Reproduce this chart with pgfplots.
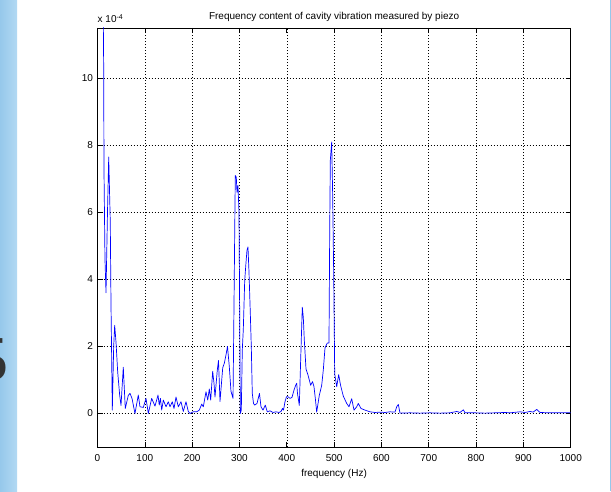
\documentclass[border=0pt]{standalone}
\usepackage{pgfplots}
\pgfplotsset{compat=1.18}
\usepackage{fontspec}
\setmainfont{Liberation Sans}
\newfontfamily\seriffont{Liberation Serif}
\definecolor{stripeA}{RGB}{150,200,235}
\definecolor{stripeB}{RGB}{178,217,243}
\begin{document}
\begin{tikzpicture}
\useasboundingbox (0pt,0pt) rectangle (611pt,491pt);
\fill[white] (0pt,0pt) rectangle (611pt,491pt);
\shade[left color=stripeA,right color=stripeB] (0pt,0pt) rectangle (17pt,491pt);
\fill[stripeA] (610pt,0pt) rectangle (611pt,491pt);
\node[anchor=base east,inner sep=0pt,font=\seriffont\fontsize{64}{64}\selectfont,text=black!80] at (9pt,111pt) {5};
\begin{axis}[
  at={(97.5pt,44pt)}, anchor=south west,
  scale only axis, width=473.2pt, height=419pt,
  clip mode=individual,
  xmin=0, xmax=1000, ymin=-1, ymax=11.5,
  xtick={0,100,...,1000}, ytick={0,2,...,10},
  tick align=inside, major tick length=5pt,
  grid=major,
  major grid style={black, line width=0.5pt, dash pattern=on 0.8pt off 2.2pt},
  axis line style={black, line width=0.6pt},
  tick style={black, line width=0.6pt},
  /pgf/number format/assume math mode=true,
  /pgf/number format/set thousands separator={},
  ticklabel style={font=\fontsize{10}{12}\selectfont},
  xticklabel style={yshift=-4pt},
  yticklabel style={xshift=-1pt},
  title={Frequency content of cavity vibration measured by piezo},
  title style={at={(0.5,1)}, anchor=base, yshift=2.5pt, font=\fontsize{10}{12}\selectfont},
  xlabel={frequency (Hz)},
  xlabel style={at={(axis description cs:0.5,0)}, anchor=base, yshift=-29pt, font=\fontsize{10}{12}\selectfont},
]
\addplot[color={rgb,255:red,0;green,0;blue,255}, line width=0.7pt, line join=round] coordinates {
(11.5,13) (13.1,10.3) (13.7,7.3) (15.8,4.6) (18.0,3.6) (21.1,6.0) (23.7,7.65) (27.0,5.7) (28.5,3.3) (31.3,0.1)
(34.2,2.0) (36.3,2.63) (39.1,2.13) (42.7,1.23) (46.9,0.54) (49.7,0.24) (54.5,1.38) (58.7,0.15) (65.1,0.54) (68.7,0.6)
(72.9,0.45) (79.2,0.0) (86.2,0.55) (89.8,0.2) (96.8,0.18) (102.5,0.45) (107.4,0.0) (114.5,0.45) (121.5,0.22) (127.9,0.55)
(130.5,0.25) (133,0.45) (135.7,0.1) (139.1,0.4) (144.8,0.2) (149.6,0.35) (153.2,0.2) (158.1,0.35) (161.7,0.15) (165.9,0.49)
(170.8,0.2) (176.5,0.35) (181.3,0.06) (187.0,0.35) (191.9,0.06) (195.5,0.0) (202.5,0.05) (209.6,0.05) (215.1,0.1) (220.2,0.28)
(223.6,0.2) (229.3,0.65) (232.9,0.4) (236.3,0.73) (239.2,0.4) (243.4,1.26) (246.2,0.9) (248.3,0.49) (253.2,1.3) (255.7,1.58)
(258.9,0.36) (264.6,1.36) (268.0,1.5) (271.6,1.75) (274.7,2.0) (278.5,1.4) (282.1,0.66) (286.4,0.45) (288.5,3.28) (290.0,5.46)
(291.2,7.1) (293.3,7.05) (294.8,6.6) (296.9,6.8) (299.0,6.0) (300.5,3.0) (301.8,0.0) (303.9,0.1) (306.0,1.9) (308.1,2.5)
(311.1,3.97) (313.8,4.5) (315.9,4.87) (318.0,4.97) (320.2,4.2) (322.9,3.0) (325.0,2.0) (327.1,0.6) (329.7,0.3) (332.2,0.25)
(337.1,0.3) (342.3,0.6) (345.5,0.2) (349.8,0.1) (354.6,0.25) (358.8,0.05) (364.5,0.08) (370.9,0.03) (377.2,0.05) (383.6,0.03)
(387.8,0.06) (391.0,0.15) (393.1,0.1) (396.2,0.35) (399.4,0.5) (402.5,0.5) (406.8,0.45) (411.0,0.48) (415.3,0.7) (418.8,0.84)
(421.0,0.9) (422.6,0.6) (426.5,0.24) (430.0,1.9) (432.8,3.17) (434.9,2.87) (437.0,2.2) (440.6,1.33) (444.8,1.15) (450.5,0.84)
(454.4,0.95) (457.5,0.8) (460.7,0.4) (463.2,0.04) (468.7,0.54) (473.8,0.84) (477.2,1.3) (480.8,1.96) (485.6,2.1) (489.2,2.1)
(490.7,5.4) (492.0,7.55) (494.9,8.1) (497.0,6.5) (499.2,4.1) (501.3,1.18) (505.5,0.8) (509.7,1.16) (513.5,0.85) (519.4,0.52)
(526.6,0.3) (531.5,0.2) (537.2,0.44) (542.1,0.1) (547.8,0.2) (551.1,0.3) (556.8,0.15) (565.3,0.1) (575.9,0.05) (586.4,0.03)
(597.0,0.04) (607.6,0.03) (618.1,0.05) (628.7,0.04) (632.3,0.2) (635.7,0.27) (639.3,0.01) (660.4,0.02) (681.5,0.01) (702.7,0.02)
(723.8,0.01) (745.0,0.02) (759.1,0.06) (766.1,0.03) (773.1,0.11) (776.7,0.02) (797.8,0.02) (819.0,0.01) (840.0,0.02) (861.2,0.03)
(871.8,0.02) (892.9,0.05) (903.5,0.03) (914.0,0.06) (920.4,0.04) (928.2,0.12) (935.2,0.03) (956.3,0.02) (977.5,0.02) (1000,0.02)
};
\node[anchor=base west, inner sep=0pt, font=\fontsize{10}{12}\selectfont] at (rel axis cs:0,1) [yshift=5pt] {x 10\textsuperscript{-4}};
\end{axis}
\end{tikzpicture}
\end{document}
